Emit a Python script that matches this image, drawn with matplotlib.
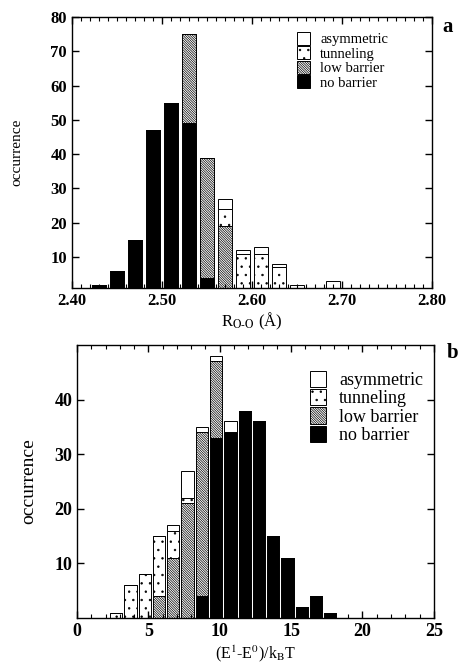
import numpy as np
import matplotlib
matplotlib.use("Agg")
import matplotlib.pyplot as plt
from matplotlib.patches import Patch
from matplotlib.ticker import MultipleLocator

plt.rcParams['font.family'] = ['Liberation Serif', 'DejaVu Serif']
plt.rcParams['mathtext.fontset'] = 'stix'
plt.rcParams['hatch.linewidth'] = 0.5

# panel a: O-O distance histogram (bin centres, A)
r_centers = [2.43, 2.45, 2.47, 2.49, 2.51, 2.53, 2.55, 2.57, 2.59, 2.61, 2.63, 2.65, 2.67, 2.69]
a_no_barrier = [2, 6, 15, 47, 55, 49, 4, 0, 0, 0, 0, 0, 0, 0]
a_low_barrier = [0, 0, 0, 0, 0, 26, 35, 19, 0, 0, 0, 0, 0, 0]
a_tunneling = [0, 0, 0, 0, 0, 0, 0, 5, 11, 11, 7, 1, 0, 1]
a_asymmetric = [0, 0, 0, 0, 0, 0, 0, 3, 1, 2, 1, 1, 0, 2]

# panel b: (E1-E0)/kT histogram (bin centres)
e_centers = [2.75, 3.75, 4.75, 5.75, 6.75, 7.75, 8.75, 9.75, 10.75, 11.75,
             12.75, 13.75, 14.75, 15.75, 16.75, 17.75]
b_no_barrier = [0, 0, 0, 0, 0, 0, 4, 33, 34, 38, 36, 15, 11, 2, 4, 1]
b_low_barrier = [0, 0, 0, 4, 11, 21, 30, 14, 0, 0, 0, 0, 0, 0, 0, 0]
b_tunneling = [1, 6, 8, 11, 5, 1, 0, 0, 0, 0, 0, 0, 0, 0, 0, 0]
b_asymmetric = [0, 0, 0, 0, 1, 5, 1, 1, 2, 0, 0, 0, 0, 0, 0, 0]

labels = ['asymmetric', 'tunneling', 'low barrier', 'no barrier']
styles = {
    'no barrier': dict(facecolor='black', hatch=None),
    'low barrier': dict(facecolor='white', hatch='\\' * 14),
    'tunneling': dict(facecolor='white', hatch='..'),
    'asymmetric': dict(facecolor='white', hatch=None),
}


def stacked(ax, x, series, width):
    bottom = np.zeros(len(x))
    for name, vals in series:
        st = styles[name]
        ax.bar(x, vals, width=width, bottom=bottom, facecolor=st['facecolor'],
               hatch=st['hatch'], edgecolor='black', linewidth=0.7)
        bottom += np.array(vals)


def style_axis(ax, fs):
    ax.tick_params(which='both', direction='in', top=True, right=True)
    ax.tick_params(which='major', length=5, width=1)
    ax.tick_params(which='minor', length=3, width=0.8)
    for lab in ax.get_xticklabels() + ax.get_yticklabels():
        lab.set_fontweight('bold')
        lab.set_fontsize(fs)
    for sp in ax.spines.values():
        sp.set_linewidth(1.0)


def make_legend(ax, anchor, fs):
    handles = [Patch(facecolor=styles[n]['facecolor'], hatch=styles[n]['hatch'],
                     edgecolor='black', linewidth=0.7) for n in labels]
    ax.legend(handles, labels, loc='upper left', bbox_to_anchor=anchor,
              frameon=False, fontsize=fs, handlelength=0.9, handleheight=1.0,
              labelspacing=0.0, handletextpad=0.7, borderaxespad=0, borderpad=0)


fig = plt.figure(figsize=(4.61, 6.65), dpi=100)

# panel a
ax1 = fig.add_axes([0.156, 0.567, 0.781, 0.4075])
stacked(ax1, r_centers, [('no barrier', a_no_barrier), ('low barrier', a_low_barrier),
                         ('tunneling', a_tunneling), ('asymmetric', a_asymmetric)], 0.016)
ax1.set_xlim(2.40, 2.80)
ax1.set_ylim(1, 80)
ax1.set_xticks([2.40, 2.50, 2.60, 2.70, 2.80])
ax1.set_xticklabels(['2.40', '2.50', '2.60', '2.70', '2.80'])
ax1.xaxis.set_minor_locator(MultipleLocator(0.01))
ax1.set_yticks([10, 20, 30, 40, 50, 60, 70, 80])
style_axis(ax1, 12)
ax1.set_ylabel('occurrence', fontsize=11)
ax1.yaxis.set_label_coords(-0.135, 0.5)
ax1.set_xlabel(r'R$_{\mathrm{O\text{-}O}}$ (Å)', fontsize=12)
ax1.xaxis.set_label_coords(0.5, -0.085)
make_legend(ax1, (0.625, 0.945), 10.5)
fig.text(448 / 461, 1 - 27 / 665, 'a', fontsize=15, fontweight='bold', ha='center', va='center')

# panel b
ax2 = fig.add_axes([0.167, 0.0707, 0.774, 0.4105])
stacked(ax2, e_centers, [('no barrier', b_no_barrier), ('low barrier', b_low_barrier),
                         ('tunneling', b_tunneling), ('asymmetric', b_asymmetric)], 0.86)
ax2.set_xlim(0, 25)
ax2.set_ylim(0, 50)
ax2.set_xticks([0, 5, 10, 15, 20, 25])
ax2.xaxis.set_minor_locator(MultipleLocator(1))
ax2.set_yticks([10, 20, 30, 40])
style_axis(ax2, 13)
ax2.set_ylabel('occurrence', fontsize=14)
ax2.yaxis.set_label_coords(-0.11, 0.5)
ax2.set_xlabel(r'(E$^{1}$-E$^{0}$)/k$_{\mathrm{B}}$T', fontsize=11.5)
ax2.xaxis.set_label_coords(0.5, -0.095)
make_legend(ax2, (0.653, 0.905), 13)
fig.text(453 / 461, 1 - 353 / 665, 'b', fontsize=15, fontweight='bold', ha='center', va='center')

fig.savefig('out.png', dpi=100)
